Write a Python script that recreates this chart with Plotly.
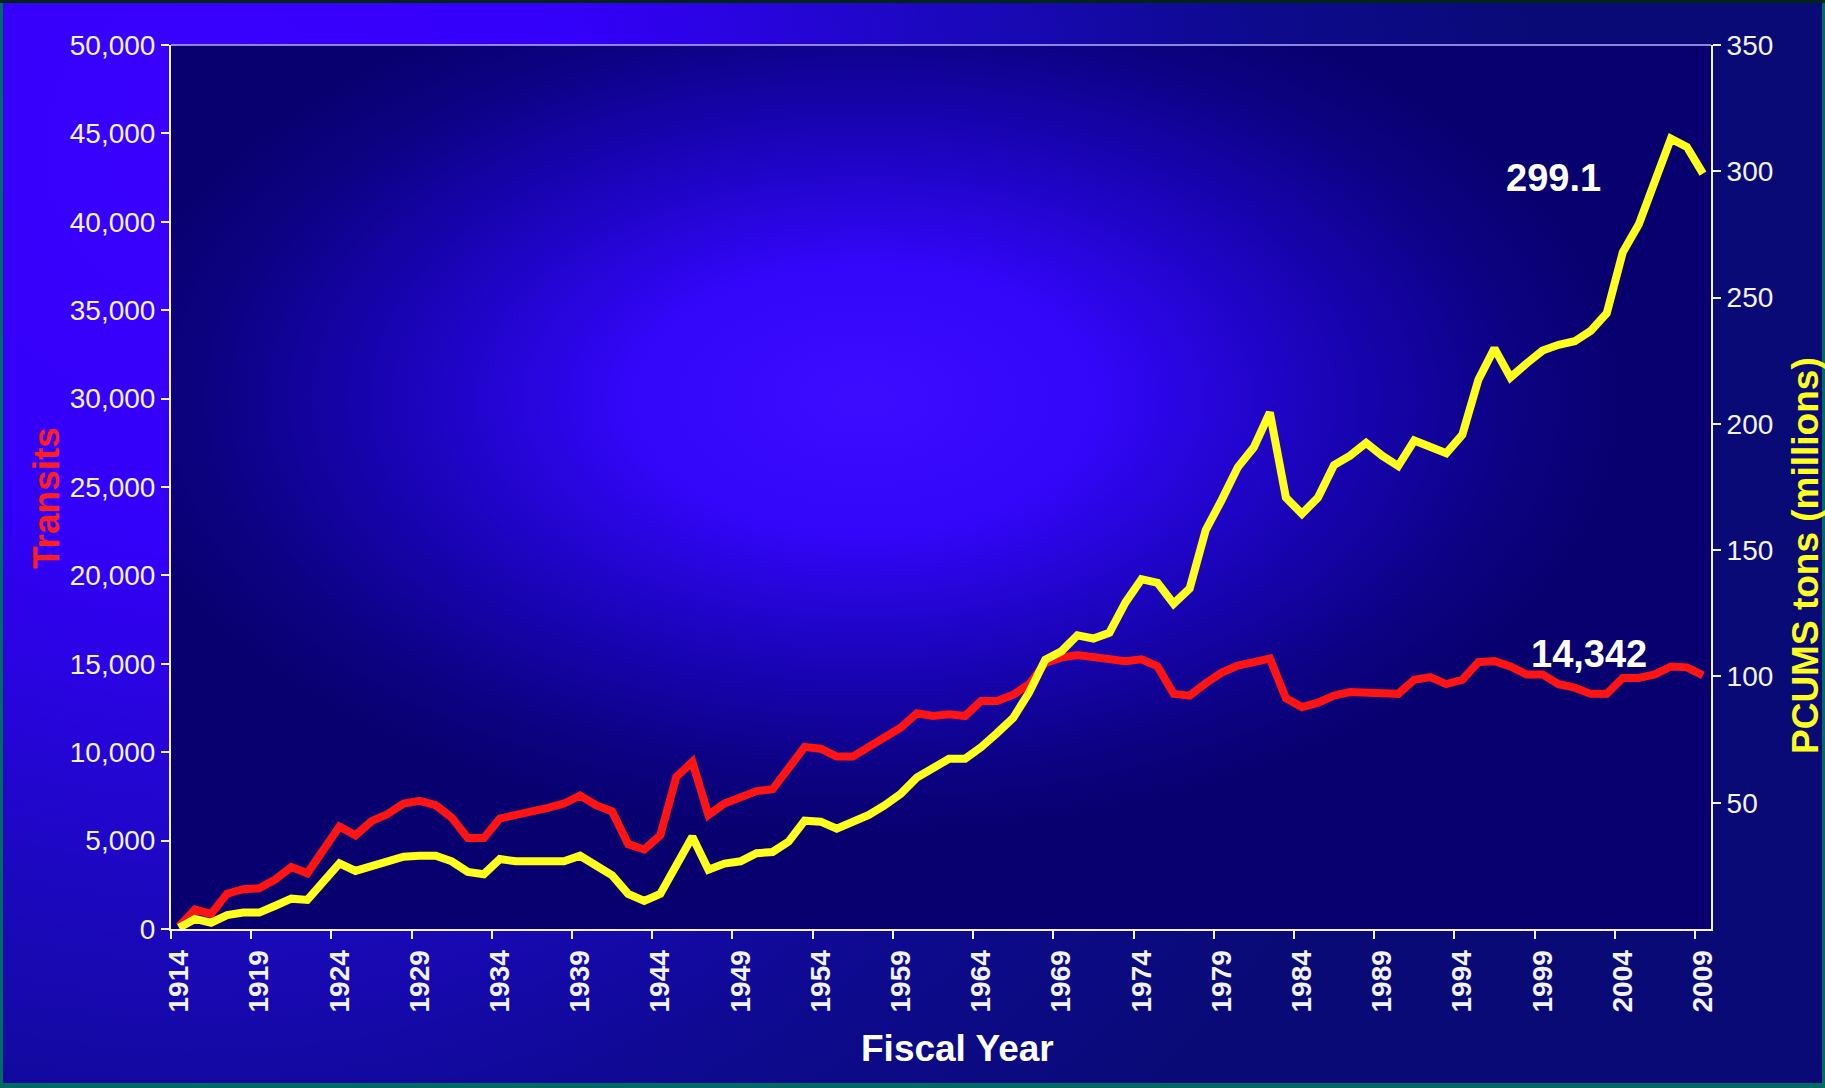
import base64
import plotly.graph_objects as go

# ---------------- data ----------------
years = list(range(1914, 2010))

transits = [
    150, 1100, 850, 2000, 2250, 2300, 2800, 3500, 3150, 4500,
    5800, 5300, 6100, 6500, 7100, 7250, 7000, 6300, 5150, 5150,
    6250, 6450, 6600, 6850, 7100, 7550, 7000, 6650, 4800, 4500,
    5300, 8600, 9450, 6450, 7100, 7500, 7800, 7900, 9100, 10300,
    10200, 9750, 9750, 10300, 10800, 11400, 12200, 12050, 12150, 12050,
    12900, 12900, 13250, 13850, 15050, 15350, 15500, 15350, 15250, 15150,
    15250, 14850, 13300, 13200, 13900, 14500, 14900, 15150, 15300, 13050,
    12550, 12800, 13200, 13400, 13400, 13300, 13300, 14100, 14250, 13850,
    14100, 15100, 15150, 14850, 14400, 14400, 13850, 13650, 13300, 13300,
    14200, 14200, 14400, 14850, 14800, 14342,
]

pcums_tons = [
    0.5, 4.0, 2.5, 5.5, 6.5, 6.5, 9.2, 12.0, 11.5, 19.0,
    26.0, 23.0, 25.0, 26.3, 28.6, 29.0, 29.0, 26.8, 22.6, 21.7,
    27.7, 26.8, 26.8, 26.3, 26.8, 29.0, 25.4, 21.2, 13.9, 11.1,
    13.9, 25.9, 36.5, 23.5, 25.9, 26.8, 30.0, 30.5, 34.6, 42.9,
    42.5, 39.7, 42.5, 45.2, 49.0, 53.6, 60.0, 63.7, 67.4, 67.4,
    72.0, 77.6, 83.6, 93.7, 106.6, 109.9, 116.3, 115.0, 117.3, 129.3,
    138.5, 137.1, 128.8, 134.8, 157.9, 169.9, 182.8, 190.7, 204.5, 170.8,
    164.4, 170.8, 183.7, 187.4, 192.5, 187.4, 183.3, 193.4, 191.1, 188.4,
    195.7, 217.5, 229.9, 218.4, 223.9, 229.0, 231.3, 232.7, 236.8, 243.8,
    267.9, 279.0, 296.0, 312.9, 309.6, 299.1,
]

x_tick_labels = ["1914", "1919", "1924", "1929", "1934", "1939", "1944", "1949",
                 "1954", "1959", "1964", "1969", "1974", "1979", "1984", "1989",
                 "1994", "1999", "2004", "2009"]
left_ticks = [0, 5000, 10000, 15000, 20000, 25000, 30000, 35000, 40000, 45000, 50000]
right_ticks = [50, 100, 150, 200, 250, 300, 350]

last_tons_label = "299.1"
last_transits_label = "14,342"

# ---------------- geometry / style ----------------
W, H = 1825, 1088
ML, MR, MT, MB = 171, 114, 45, 159
PW, PH = W - ML - MR, H - MT - MB

FONT = "Liberation Sans, Arial, sans-serif"
WHITE = "#f2f2fa"
RED = "#ff1414"
YELLOW = "#ffff1e"


def px_x(px):
    return (px - ML) / PW


def px_y(py):
    return (H - MB - py) / PH


# category boundaries (Excel "between categories" style ticks)
tick_bounds = [int(t) - 0.5 for t in x_tick_labels]

svg_paper = f'''<svg xmlns="http://www.w3.org/2000/svg" width="{W}" height="{H}" viewBox="0 0 {W} {H}" preserveAspectRatio="none">
<defs><radialGradient id="g" gradientUnits="userSpaceOnUse" cx="200" cy="150" r="1350">
<stop offset="0" stop-color="#3a00ff"/><stop offset="0.3" stop-color="#3300f8"/>
<stop offset="0.55" stop-color="#1c08c0"/><stop offset="0.78" stop-color="#0e0a8e"/>
<stop offset="1" stop-color="#0a0a76"/></radialGradient></defs>
<rect x="0" y="0" width="{W}" height="{H}" fill="#006a64"/>
<rect x="0" y="0" width="{W}" height="3" fill="#002418"/>
<rect x="3" y="3" width="{W - 6}" height="{H - 8}" fill="url(#g)"/>
</svg>'''

svg_plot = f'''<svg xmlns="http://www.w3.org/2000/svg" width="{PW}" height="{PH}" viewBox="0 0 {PW} {PH}" preserveAspectRatio="none">
<defs><radialGradient id="p" gradientUnits="objectBoundingBox" cx="0.45" cy="0.40" r="0.5">
<stop offset="0" stop-color="#3c0cff"/><stop offset="0.3" stop-color="#3306fa"/>
<stop offset="0.6" stop-color="#1a04b8"/><stop offset="0.85" stop-color="#0c0282"/>
<stop offset="1" stop-color="#08006e"/></radialGradient></defs>
<rect x="0" y="0" width="{PW}" height="{PH}" fill="url(#p)"/>
</svg>'''


def svg_uri(s):
    return "data:image/svg+xml;base64," + base64.b64encode(s.encode()).decode()


fig = go.Figure()
fig.add_trace(go.Scatter(x=years, y=transits, mode="lines", name="Transits",
                         line=dict(color=RED, width=8), yaxis="y", hoverinfo="skip"))
fig.add_trace(go.Scatter(x=years, y=pcums_tons, mode="lines", name="PCUMS tons",
                         line=dict(color=YELLOW, width=8), yaxis="y2", hoverinfo="skip"))

tick_font = dict(family=FONT, size=28, color=WHITE)

fig.update_layout(
    width=W, height=H,
    margin=dict(l=ML, r=MR, t=MT, b=MB, pad=0),
    paper_bgcolor="#0a0a78",
    plot_bgcolor="rgba(0,0,0,0)",
    showlegend=False,
    xaxis=dict(
        range=[1913.5, 2009.5], tickmode="array", tickvals=tick_bounds, ticktext=x_tick_labels,
        ticks="outside", ticklen=8, tickwidth=1.5, tickcolor=WHITE,
        showline=True, linecolor=WHITE, linewidth=2, showgrid=False, zeroline=False,
        tickangle=-90, ticklabelshift=8,
        tickfont=dict(family=FONT, size=28, color=WHITE, weight="bold"),
    ),
    xaxis2=dict(
        overlaying="x", anchor="y", range=[1913.5, 2009.5], tickmode="array", tickvals=tick_bounds,
        ticks="inside", ticklen=8, tickwidth=1.5, tickcolor=WHITE, showticklabels=False,
        showline=False, showgrid=False, zeroline=False,
    ),
    yaxis=dict(
        range=[0, 50000], tickmode="array", tickvals=left_ticks, tickformat=",",
        ticks="outside", ticklen=8, tickwidth=1.5, tickcolor=WHITE,
        showline=True, linecolor=WHITE, linewidth=2, showgrid=False, zeroline=False,
        tickfont=tick_font,
    ),
    yaxis3=dict(
        overlaying="y", anchor="x", side="left", range=[0, 50000], tickmode="array", tickvals=left_ticks,
        ticks="inside", ticklen=8, tickwidth=1.5, tickcolor=WHITE, showticklabels=False,
        showline=False, showgrid=False, zeroline=False,
    ),
    yaxis2=dict(
        overlaying="y", anchor="x", side="right", range=[0, 350], tickmode="array", tickvals=right_ticks,
        ticks="outside", ticklen=8, tickwidth=1.5, tickcolor=WHITE,
        showline=True, linecolor=WHITE, linewidth=2, showgrid=False, zeroline=False,
        tickfont=tick_font,
    ),
    yaxis4=dict(
        overlaying="y", anchor="x", side="right", range=[0, 350], tickmode="array", tickvals=right_ticks,
        ticks="inside", ticklen=8, tickwidth=1.5, tickcolor=WHITE, showticklabels=False,
        showline=False, showgrid=False, zeroline=False,
    ),
    images=[
        dict(source=svg_uri(svg_paper), xref="paper", yref="paper",
             x=px_x(0), y=px_y(0), sizex=W / PW, sizey=H / PH,
             xanchor="left", yanchor="top", sizing="stretch", layer="below"),
        dict(source=svg_uri(svg_plot), xref="paper", yref="paper",
             x=0, y=1, sizex=1, sizey=1,
             xanchor="left", yanchor="top", sizing="stretch", layer="below"),
    ],
    shapes=[
        dict(type="line", xref="paper", yref="paper", x0=0, x1=1, y0=1, y1=1,
             line=dict(color="#b8b0ff", width=1.5)),
    ],
    annotations=[
        dict(text=last_tons_label, x=1999.7, y=297.3, xref="x", yref="y2", showarrow=False,
             font=dict(family=FONT, size=38, color="white", weight="bold")),
        dict(text=last_transits_label, x=2001.9, y=15550, xref="x", yref="y", showarrow=False,
             font=dict(family=FONT, size=38, color="white", weight="bold")),
        dict(text="Transits", x=px_x(47), y=px_y(498), xref="paper", yref="paper", showarrow=False,
             textangle=-90, xanchor="center", yanchor="middle",
             font=dict(family=FONT, size=37, color="#ff1e1e", weight="bold")),
        dict(text="PCUMS tons (millions)", x=px_x(1805), y=px_y(556), xref="paper", yref="paper",
             showarrow=False, textangle=-90, xanchor="center", yanchor="middle",
             font=dict(family=FONT, size=37, color=YELLOW, weight="bold")),
        dict(text="Fiscal Year", x=px_x(957), y=px_y(1048), xref="paper", yref="paper", showarrow=False,
             xanchor="center", yanchor="middle",
             font=dict(family=FONT, size=37, color="white", weight="bold")),
    ],
)

fig.write_html("out.html")
